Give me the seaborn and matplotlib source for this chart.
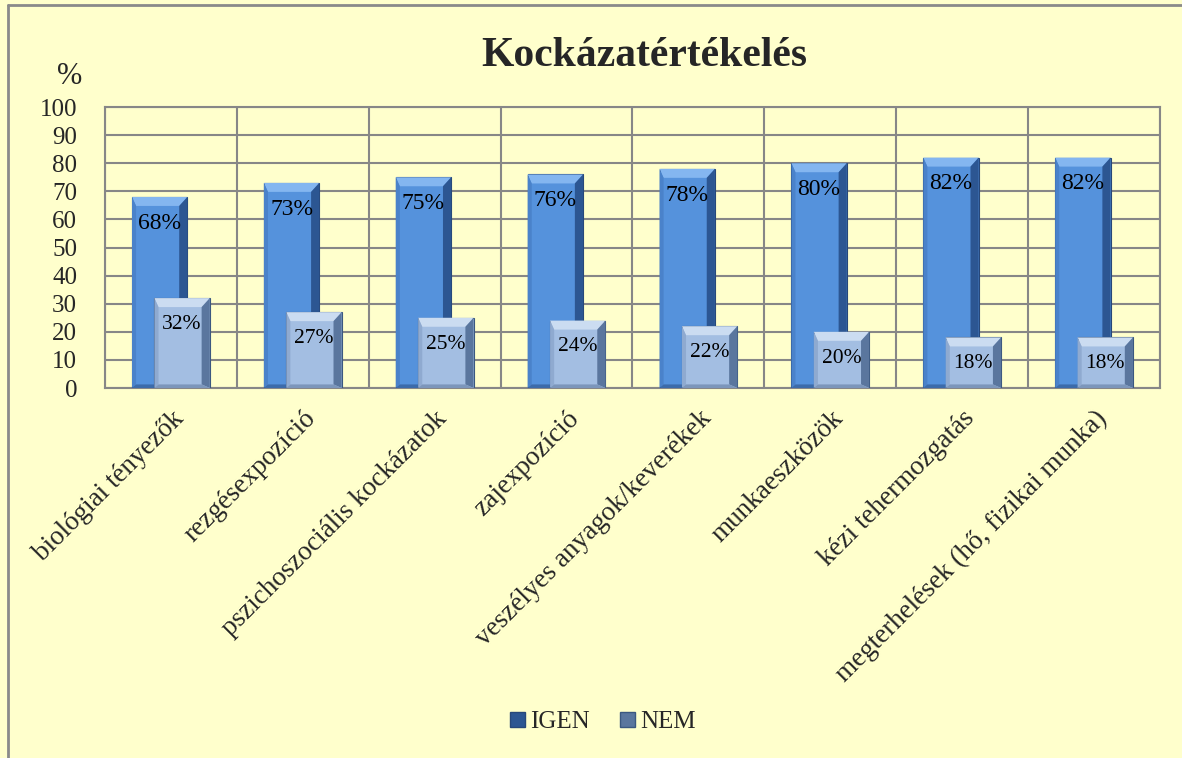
import pandas as pd
import matplotlib.pyplot as plt
import seaborn as sns
from matplotlib.patches import Polygon, Patch
from matplotlib.lines import Line2D

categories = ["biológiai tényezők", "rezgésexpozíció", "pszichoszociális kockázatok",
              "zajexpozíció", "veszélyes anyagok/keverékek", "munkaeszközök",
              "kézi tehermozgatás", "megterhelések (hő, fizikai munka)"]
igen = [68, 73, 75, 76, 78, 80, 82, 82]
nem = [32, 27, 25, 24, 22, 20, 18, 18]
series = ["IGEN", "NEM"]
yticks = [0, 10, 20, 30, 40, 50, 60, 70, 80, 90, 100]

df = pd.DataFrame({
    "cat": categories * 2,
    "val": igen + nem,
    "ser": [series[0]] * len(categories) + [series[1]] * len(categories),
})

bg = "#FFFFCC"
grid_col = "#878787"
# face, top bevel, left bevel, right bevel, bottom bevel, outline
styles = {
    "IGEN": ("#5592DC", "#84B6F0", "#4A82CA", "#2C5692", "#3C6BAA", "#27487A"),
    "NEM": ("#A3BEE2", "#CBDCF1", "#8FAAD0", "#5A769E", "#7C96BB", "#3B5880"),
}

sns.set_theme(style="white")
plt.rcParams["font.family"] = ["Liberation Serif", "DejaVu Serif"]

fig = plt.figure(figsize=(11.82, 7.58), dpi=100, facecolor=bg)
ax = fig.add_axes([0.0888, 0.4881, 0.8926, 0.3707])
ax.set_facecolor(bg)

sns.barplot(data=df, x="cat", y="val", hue="ser", order=categories, hue_order=series,
            palette=[styles[s][0] for s in series], dodge=True, width=0.84,
            errorbar=None, ax=ax, legend=False, zorder=3, saturation=1)

n = len(categories)
bw = 0.42
shift = 0.125
bx, by = 0.062, 3.2
for i, p in enumerate(ax.patches[:2 * n]):
    s = series[i // n]
    st = styles[s]
    x = p.get_x() + (shift if s == "IGEN" else -shift)
    p.set_x(x)
    p.set_width(bw)
    h = p.get_height()
    p.set_edgecolor(st[5])
    p.set_linewidth(0.8)
    z = 4 if s == "IGEN" else 6
    p.set_zorder(z)
    x0, x1 = x, x + bw
    lx = bx * 0.5
    bevels = [
        ([(x0, h), (x1, h), (x1 - bx, h - by), (x0 + lx, h - by)], st[1]),
        ([(x0, 0), (x0 + lx, by * 0.4), (x0 + lx, h - by), (x0, h)], st[2]),
        ([(x1, 0), (x1, h), (x1 - bx, h - by), (x1 - bx, by * 0.4)], st[3]),
        ([(x0, 0), (x1, 0), (x1 - bx, by * 0.4), (x0 + lx, by * 0.4)], st[4]),
    ]
    for pts, c in bevels:
        ax.add_patch(Polygon(pts, closed=True, facecolor=c, edgecolor="none", zorder=z + 0.5))
    fs = 17 if s == "IGEN" else 15.5
    ax.annotate(f"{h:.0f}%", (x + bw / 2, h), xytext=(0, -19), textcoords="offset points",
                ha="center", va="center", fontsize=fs, color="black", zorder=z + 1)

ax.set_xlim(-0.5, n - 0.5)
ax.set_ylim(0, 100)
ax.set_yticks(yticks)
ax.set_yticklabels([str(t) for t in yticks], fontsize=18)
for y in yticks:
    ax.axhline(y, color=grid_col, lw=1.5, zorder=1)
for k in range(n + 1):
    ax.axvline(k - 0.5, color=grid_col, lw=1.5, zorder=1)
for sp in ax.spines.values():
    sp.set_color(grid_col)
    sp.set_linewidth(1.5)
ax.tick_params(axis="y", length=0, pad=20)
ax.tick_params(axis="x", length=0, pad=13)
ax.set_xticks(range(n))
ax.set_xticklabels(categories, rotation=45, ha="right", rotation_mode="anchor", fontsize=19.5)
ax.set_xlabel("")
ax.set_ylabel("")

fig.text(0.545, 0.926, "Kockázatértékelés", ha="center", va="center",
         fontsize=30, fontweight="bold")
fig.text(0.059, 0.899, "%", ha="center", va="center", fontsize=22)

handles = [Patch(facecolor=styles[s][3], edgecolor=styles[s][5], label=s) for s in series]
fig.legend(handles=handles, loc="center", bbox_to_anchor=(0.51, 0.047), ncol=2, frameon=False,
           fontsize=18, handlelength=0.6, handleheight=0.6, handletextpad=0.2, columnspacing=1.2)

fig.add_artist(Line2D([0.0068, 0.0068], [0.0, 0.9934], color="#8A8A8A", lw=2))
fig.add_artist(Line2D([0.0068, 1.0], [0.9934, 0.9934], color="#8A8A8A", lw=2))

fig.savefig("out.png", dpi=100, facecolor=bg)
